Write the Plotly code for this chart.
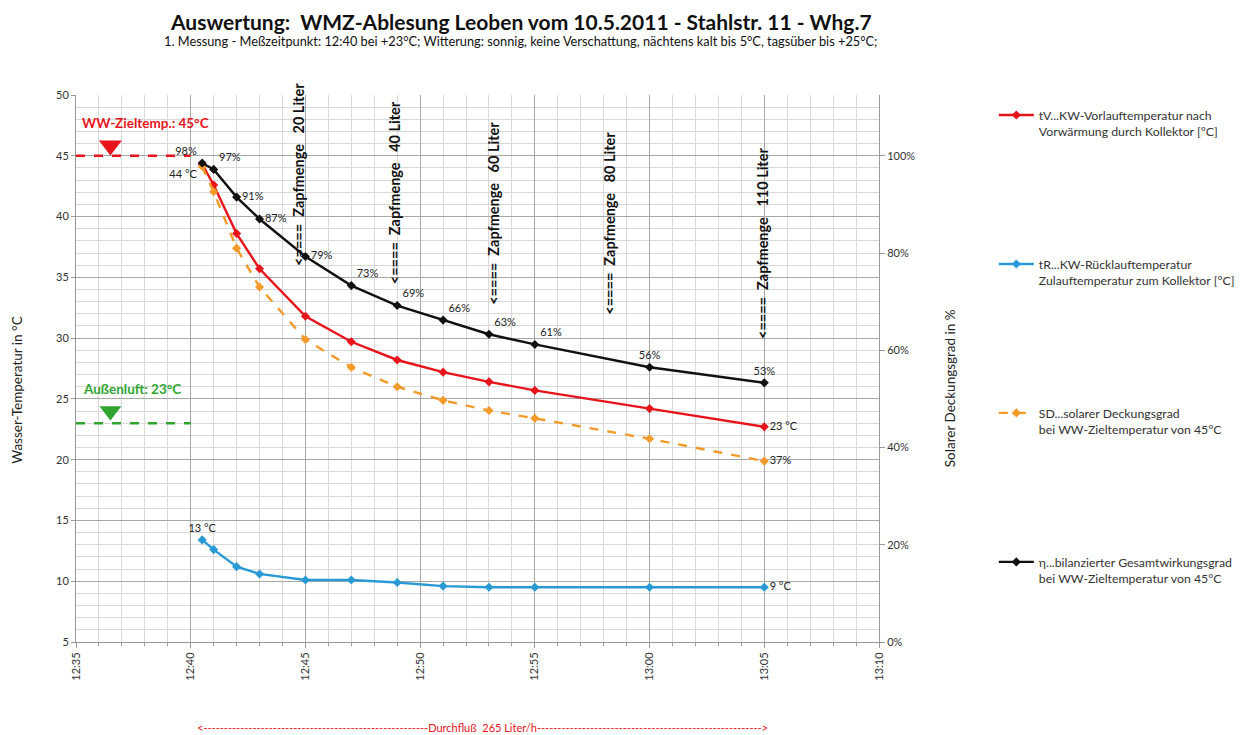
import plotly.graph_objects as go

# ---------------- data ----------------
times = ["2011-05-10 12:40:30", "2011-05-10 12:41:00", "2011-05-10 12:42:00",
         "2011-05-10 12:43:00", "2011-05-10 12:45:00", "2011-05-10 12:47:00",
         "2011-05-10 12:49:00", "2011-05-10 12:51:00", "2011-05-10 12:53:00",
         "2011-05-10 12:55:00", "2011-05-10 13:00:00", "2011-05-10 13:05:00"]

t_vorlauf = [44.3, 42.6, 38.6, 35.7, 31.8, 29.7, 28.2, 27.2, 26.4, 25.7, 24.2, 22.7]
t_ruecklauf = [13.4, 12.6, 11.2, 10.6, 10.1, 10.1, 9.9, 9.6, 9.5, 9.5, 9.5, 9.5]
sd_deckung = [0.978, 0.926, 0.810, 0.730, 0.622, 0.565, 0.525, 0.497, 0.476, 0.460, 0.418, 0.372]
eta_gesamt = [0.985, 0.972, 0.915, 0.870, 0.793, 0.733, 0.692, 0.662, 0.633, 0.612, 0.565, 0.533]

eta_labels = ["98%", "97%", "91%", "87%", "79%", "73%", "69%", "66%", "63%", "61%", "56%", "53%"]
tv_labels = ["44 °C"] + [""] * 10 + ["23 °C"]
tr_labels = ["13 °C"] + [""] * 10 + ["9 °C"]
sd_labels = [""] * 11 + ["37%"]

ww_ziel = 45
aussenluft = 23
ref_span = ["2011-05-10 12:35:00", "2011-05-10 12:40:00"]
marker_time = ["2011-05-10 12:36:30"]

zapf_labels = ["<====  Zapfmenge   20 Liter", "<====  Zapfmenge   40 Liter",
               "<====  Zapfmenge   60 Liter", "<====  Zapfmenge   80 Liter",
               "<====  Zapfmenge   110 Liter"]
zapf_times = ["2011-05-10 12:44:40", "2011-05-10 12:48:55", "2011-05-10 12:53:10",
              "2011-05-10 12:58:15", "2011-05-10 13:04:55"]
zapf_bottom = [35.8, 34.25, 32.6, 31.75, 29.75]

x_range = ["2011-05-10 12:35:00", "2011-05-10 13:10:00"]

legend_names = ["tV...KW-Vorlauftemperatur nach<br>Vorwärmung durch Kollektor [°C]",
                "tR...KW-Rücklauftemperatur<br>Zulauftemperatur zum Kollektor [°C]",
                "SD...solarer Deckungsgrad<br>bei WW-Zieltemperatur von 45°C",
                "η...bilanzierter Gesamtwirkungsgrad<br>bei WW-Zieltemperatur von 45°C"]

RED = "#E8141B"
BLUE = "#2A9AD6"
ORANGE = "#F39A2B"
BLACK = "#111111"
GREEN = "#2FA52F"
FONT = "Lato"

fig = go.Figure()

# reference lines / markers
fig.add_trace(go.Scatter(x=ref_span, y=[ww_ziel, ww_ziel], mode="lines",
                         line=dict(color=RED, width=2.5, dash="dash"),
                         showlegend=False, hoverinfo="skip"))
fig.add_trace(go.Scatter(x=ref_span, y=[aussenluft, aussenluft], mode="lines",
                         line=dict(color=GREEN, width=2.5, dash="dash"),
                         showlegend=False, hoverinfo="skip"))
fig.add_trace(go.Scatter(x=marker_time, y=[ww_ziel + 0.85], mode="markers",
                         marker=dict(symbol="triangle-down", size=20, color=RED),
                         showlegend=False, hoverinfo="skip"))
fig.add_trace(go.Scatter(x=marker_time, y=[aussenluft + 1.0], mode="markers",
                         marker=dict(symbol="triangle-down", size=19, color=GREEN),
                         showlegend=False, hoverinfo="skip"))

# main series
fig.add_trace(go.Scatter(
    x=times, y=t_vorlauf, name=legend_names[0], legendgroup="a",
    mode="lines+markers+text", text=tv_labels,
    textposition=["bottom left"] + ["middle right"] * 11,
    textfont=dict(size=11, color="#222", family=FONT),
    line=dict(color=RED, width=2.4), marker=dict(symbol="diamond", size=7, color=RED)))
fig.add_trace(go.Scatter(
    x=times, y=t_ruecklauf, name=legend_names[1], legendgroup="b",
    mode="lines+markers+text", text=tr_labels,
    textposition=["top center"] + ["middle right"] * 11,
    textfont=dict(size=11, color="#222", family=FONT),
    line=dict(color=BLUE, width=2.4), marker=dict(symbol="diamond", size=7, color=BLUE)))
fig.add_trace(go.Scatter(
    x=times, y=sd_deckung, name=legend_names[2], legendgroup="c", yaxis="y2",
    mode="lines+markers+text", text=sd_labels,
    textposition=["middle right"] * 12,
    textfont=dict(size=11, color="#222", family=FONT),
    line=dict(color=ORANGE, width=2.4, dash="dash"),
    marker=dict(symbol="diamond", size=7, color=ORANGE)))
fig.add_trace(go.Scatter(
    x=times, y=eta_gesamt, name=legend_names[3], legendgroup="d", yaxis="y2",
    mode="lines+markers+text", text=eta_labels,
    textposition=["top left", "top right", "middle right", "middle right", "middle right",
                  "top right", "top right", "top right", "top right", "top right",
                  "top center", "top center"],
    textfont=dict(size=11, color="#222", family=FONT),
    line=dict(color=BLACK, width=2.4), marker=dict(symbol="diamond", size=7, color=BLACK)))

annotations = []
for lab, t, yb in zip(zapf_labels, zapf_times, zapf_bottom):
    annotations.append(dict(x=t, y=yb, xref="x", yref="y", text="<b>" + lab.replace("<", "&lt;") + "</b>",
                            textangle=-90, showarrow=False, xanchor="center", yanchor="bottom",
                            font=dict(size=14.5, color="#111", family=FONT)))

annotations += [
    dict(x=ref_span[0], y=ww_ziel, xref="x", yref="y", text="<b>WW-Zieltemp.: 45°C</b>",
         showarrow=False, xanchor="left", yanchor="bottom", xshift=4, yshift=23,
         font=dict(size=13.5, color=RED, family=FONT)),
    dict(x=ref_span[0], y=aussenluft, xref="x", yref="y", text="<b>Außenluft: 23°C</b>",
         showarrow=False, xanchor="left", yanchor="bottom", xshift=5, yshift=24,
         font=dict(size=13.5, color=GREEN, family=FONT)),
    dict(x=0, y=0.461, xref="paper", yref="paper", text="Wasser-Temperatur in °C",
         textangle=-90, showarrow=False, xanchor="center", yanchor="middle", xshift=-59,
         font=dict(size=13.5, color="#222", family=FONT)),
    dict(x=1, y=0.464, xref="paper", yref="paper", text="Solarer Deckungsgrad in %",
         textangle=-90, showarrow=False, xanchor="center", yanchor="middle", xshift=71,
         font=dict(size=13.5, color="#222", family=FONT)),
    dict(x=0.5, y=1, xref="paper", yref="paper",
         text="<b>Auswertung:  WMZ-Ablesung Leoben vom 10.5.2011 - Stahlstr. 11 - Whg.7</b>",
         showarrow=False, xanchor="center", yanchor="middle", xshift=43, yshift=74,
         font=dict(size=21, color="#111", family=FONT)),
    dict(x=0.5, y=1, xref="paper", yref="paper",
         text="1. Messung - Meßzeitpunkt: 12:40 bei +23°C; Witterung: sonnig, keine Verschattung, nächtens kalt bis 5°C, tagsüber bis +25°C;",
         showarrow=False, xanchor="center", yanchor="middle", xshift=43, yshift=54,
         font=dict(size=12.8, color="#111", family=FONT)),
    dict(x=0.5, y=0, xref="paper", yref="paper",
         text="&lt;" + "-" * 55 + "Durchfluß  265 Liter/h" + "-" * 55 + "&gt;",
         showarrow=False, xanchor="center", yanchor="middle", xshift=5, yshift=-85,
         font=dict(size=11, color=RED, family=FONT)),
]

fig.update_layout(
    width=1245, height=727,
    margin=dict(l=68, r=374, t=87, b=93),
    paper_bgcolor="white", plot_bgcolor="white",
    font=dict(family=FONT, size=11, color="#222"),
    xaxis=dict(type="date", range=x_range, dtick=300000, tickformat="%H:%M",
               tickangle=-90, showgrid=True, gridcolor="#a8a8a8", gridwidth=1,
               minor=dict(dtick=60000, showgrid=True, gridcolor="#d9d9d9", ticks="outside",
                          ticklen=3, tickcolor="#999"),
               ticks="outside", ticklen=5, tickcolor="#999",
               showline=True, linecolor="#999", zeroline=False,
               tickfont=dict(size=11, color="#333")),
    yaxis=dict(range=[5, 50], dtick=5, showgrid=True, gridcolor="#a8a8a8",
               minor=dict(dtick=1, showgrid=True, gridcolor="#d9d9d9"),
               ticks="outside", ticklen=4, tickcolor="#999",
               showline=True, linecolor="#999", zeroline=False,
               tickfont=dict(size=11, color="#333")),
    yaxis2=dict(range=[0, 1.125], overlaying="y", side="right", tickformat=".0%",
                tickvals=[0, 0.2, 0.4, 0.6, 0.8, 1.0], showgrid=False,
                ticks="outside", ticklen=5, tickcolor="#999",
                showline=True, linecolor="#999", zeroline=False,
                tickfont=dict(size=11, color="#333")),
    legend=dict(x=1.143, y=0.99, xanchor="left", yanchor="top",
                font=dict(size=12.3, color="#333", family=FONT),
                tracegroupgap=114, valign="top", itemwidth=35),
    annotations=annotations,
    showlegend=True,
)

fig.write_html("out.html")
